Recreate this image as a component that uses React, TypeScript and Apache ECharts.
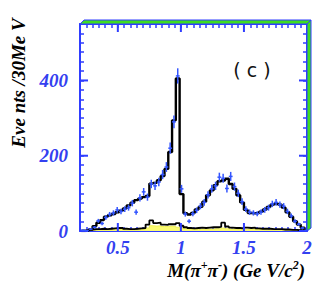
import React, { useEffect, useRef } from 'react';
import * as echarts from 'echarts';

// Histogram bins: low edge of first bin and bin width (GeV/c^2)
const binLow = 0.21;
const binWidth = 0.03;
const xMin = 0.2;
const xMax = 2.0;
const yMax = 550;

// Total fit (black step histogram), one value per bin
const fitValues = [
  0, 1, 4, 13, 22, 29, 38, 42, 45, 50,
  54, 60, 68, 75, 82, 86, 90, 93, 126, 128,
  135, 146, 165, 210, 294, 405, 98, 47, 44, 48,
  57, 64, 78, 95, 108, 122, 132, 134, 139, 125,
  112, 95, 76, 56, 48, 47, 48, 51, 57, 64,
  70, 73, 70, 62, 50, 38, 26, 17, 9, 3,
];

// Data points (blue crosses)
const dataValues = [
  2, 1, 5, 10, 27, 20, 36, 44, 48, 56,
  52, 58, 62, 74, 50, 88, 104, 90, 125, 120,
  130, 150, 170, 220, 290, 412, 112, 45, 26, 46,
  55, 66, 76, 96, 112, 120, 143, 140, 113, 145,
  118, 100, 78, 58, 50, 48, 46, 50, 56, 62,
  72, 76, 70, 66, 52, 40, 26, 18, 8, 2,
];

// Background (lower black histogram)
const bkgValues = [
  1, 2, 4, 5, 5, 6, 5, 6, 7, 8,
  8, 6, 5, 5, 6, 7, 8, 17, 28, 21,
  22, 17, 16, 18, 18, 21, 14, 10, 8, 7,
  8, 9, 8, 9, 10, 10, 11, 22, 12, 9,
  8, 8, 7, 9, 8, 9, 7, 6, 6, 6,
  5, 5, 5, 4, 4, 3, 3, 2, 2, 1,
];

// Yellow component
const yellowValues = [
  0, 1, 2, 2, 3, 3, 3, 3, 4, 4,
  4, 3, 3, 3, 3, 4, 4, 8, 14, 13,
  14, 12, 12, 13, 12, 10, 8, 6, 5, 4,
  4, 5, 5, 5, 5, 6, 6, 8, 6, 5,
  5, 4, 4, 5, 5, 5, 4, 4, 3, 3,
  3, 3, 3, 2, 2, 2, 2, 1, 1, 0,
];

const xMajorTicks = [0.5, 1, 1.5, 2];
const yMajorTicks = [0, 200, 400];

const BLUE = '#2f3dff';
const LABEL_BLUE = '#3340f0';
const GREEN = '#3fdc22';

function stepData(vals: number[]) {
  const pts: number[][] = vals.map((v, i) => [+(binLow + i * binWidth).toFixed(4), v]);
  pts.push([xMax, vals[vals.length - 1]]);
  return pts;
}

export default function App() {
  const ref = useRef<HTMLDivElement>(null);
  useEffect(() => {
    document.body.style.margin = '0';
    const chart = echarts.init(ref.current!, null, { renderer: 'svg' });
    const serif = 'Liberation Serif, Times New Roman, serif';
    const xAxisBase = {
      type: 'value',
      min: xMin,
      max: xMax,
      interval: 0.05,
      splitLine: { show: false },
      axisLine: { show: true, onZero: false, lineStyle: { color: BLUE, width: 2 } },
      axisTick: { show: true, inside: true, length: 4, lineStyle: { color: BLUE, width: 1.5 } },
    };
    const yAxisBase = {
      type: 'value',
      min: 0,
      max: yMax,
      interval: 25,
      splitLine: { show: false },
      axisLine: { show: true, onZero: false, lineStyle: { color: BLUE, width: 2 } },
      axisTick: { show: true, inside: true, length: 4, lineStyle: { color: BLUE, width: 1.5 } },
    };
    const majorTickSeries = (isX: boolean) => ({
      type: 'custom',
      silent: true,
      z: 5,
      clip: false,
      data: (isX ? xMajorTicks : yMajorTicks).map((v) => (isX ? [v, 0] : [xMin, v])),
      renderItem: (params: any, api: any) => {
        const style = { stroke: BLUE, lineWidth: 2 };
        if (isX) {
          const x = api.value(0);
          const b = api.coord([x, 0]);
          const t = api.coord([x, yMax]);
          return {
            type: 'group',
            children: [
              { type: 'line', shape: { x1: b[0], y1: b[1], x2: b[0], y2: b[1] - 8 }, style },
              { type: 'line', shape: { x1: t[0], y1: t[1], x2: t[0], y2: t[1] + 8 }, style },
            ],
          };
        }
        const y = api.value(1);
        const l = api.coord([xMin, y]);
        const r = api.coord([xMax, y]);
        return {
          type: 'group',
          children: [
            { type: 'line', shape: { x1: l[0], y1: l[1], x2: l[0] + 8, y2: l[1] }, style },
            { type: 'line', shape: { x1: r[0], y1: r[1], x2: r[0] - 8, y2: r[1] }, style },
          ],
        };
      },
    });

    const titleMain = { fontFamily: serif, fontStyle: 'italic', fontWeight: 'bold', fontSize: 19, fill: '#000000', color: '#000000', lineHeight: 22 };
    const titleSup = { fontFamily: serif, fontStyle: 'italic', fontWeight: 'bold', fontSize: 12, fill: '#000000', color: '#000000', lineHeight: 22, verticalAlign: 'top' };

    chart.setOption({
      animation: false,
      backgroundColor: '#ffffff',
      grid: { left: 80, top: 24, right: 20, bottom: 59, containLabel: false },
      xAxis: [
        {
          ...xAxisBase,
          position: 'bottom',
          axisLabel: {
            show: true,
            margin: 7,
            showMaxLabel: true,
            color: LABEL_BLUE,
            fontFamily: serif,
            fontStyle: 'italic',
            fontWeight: 'bold',
            fontSize: 19,
            formatter: (v: number) => {
              const hit = xMajorTicks.find((t) => Math.abs(t - v) < 1e-6);
              return hit !== undefined ? String(hit) : '';
            },
          },
        },
        { ...xAxisBase, position: 'top', axisLabel: { show: false } },
      ],
      yAxis: [
        {
          ...yAxisBase,
          position: 'left',
          axisLabel: {
            show: true,
            margin: 12,
            color: LABEL_BLUE,
            fontFamily: serif,
            fontStyle: 'italic',
            fontWeight: 'bold',
            fontSize: 19,
            formatter: (v: number) => (yMajorTicks.includes(v) ? String(v) : ''),
          },
        },
        { ...yAxisBase, position: 'right', axisLabel: { show: false } },
      ],
      series: [
        {
          type: 'line',
          step: 'end',
          data: stepData(yellowValues),
          showSymbol: false,
          lineStyle: { color: '#eeee55', width: 1 },
          areaStyle: { color: '#fafa70', opacity: 1 },
          z: 2,
        },
        {
          type: 'line',
          step: 'end',
          data: stepData(bkgValues),
          showSymbol: false,
          lineStyle: { color: '#000000', width: 1.8 },
          z: 3,
        },
        {
          type: 'line',
          step: 'end',
          data: stepData(fitValues),
          showSymbol: false,
          lineStyle: { color: '#000000', width: 2.4 },
          z: 4,
        },
        {
          type: 'custom',
          z: 6,
          data: dataValues.map((v, i) => [+(binLow + (i + 0.5) * binWidth).toFixed(4), v]),
          renderItem: (params: any, api: any) => {
            const x = api.value(0);
            const v = api.value(1);
            const e = Math.sqrt(Math.max(v, 1));
            const c = api.coord([x, v]);
            const t = api.coord([x, v + e]);
            const b = api.coord([x, Math.max(v - e, 0)]);
            const style = { stroke: '#3355ff', lineWidth: 1.5 };
            return {
              type: 'group',
              children: [
                { type: 'line', shape: { x1: t[0], y1: t[1], x2: b[0], y2: b[1] }, style },
                { type: 'line', shape: { x1: c[0] - 1.9, y1: c[1], x2: c[0] + 1.9, y2: c[1] }, style },
              ],
            };
          },
        },
        majorTickSeries(true),
        majorTickSeries(false),
      ],
      graphic: [
        {
          type: 'polygon',
          shape: { points: [[80, 24], [84, 20], [311, 20], [307, 24]] },
          style: { fill: GREEN, stroke: BLUE, lineWidth: 1 },
          z: 10,
        },
        {
          type: 'polygon',
          shape: { points: [[307, 24], [311, 20], [311, 228], [307, 231]] },
          style: { fill: GREEN, stroke: BLUE, lineWidth: 1 },
          z: 10,
        },
        {
          type: 'text',
          x: 252,
          y: 70,
          style: {
            text: '( c )',
            fontFamily: 'DejaVu Sans, sans-serif',
            fontSize: 19,
            fill: '#111111',
            align: 'center',
            verticalAlign: 'middle',
          },
        },
        {
          type: 'text',
          x: 18,
          y: 83,
          rotation: Math.PI / 2,
          style: {
            text: 'Eve nts /30Me V',
            fontFamily: serif,
            fontStyle: 'italic',
            fontWeight: 'bold',
            fontSize: 19,
            fill: '#000000',
            align: 'center',
            verticalAlign: 'middle',
          },
        },
        {
          type: 'text',
          x: 305,
          y: 270,
          style: {
            text: '{m|M(π}{s|+}{m|π}{s|-}{m|) (Ge V/c}{s|2}{m|)}',
            align: 'right',
            verticalAlign: 'middle',
            rich: { m: titleMain, s: titleSup },
          },
        },
      ],
    });
    return () => chart.dispose();
  }, []);
  return <div ref={ref} style={{ width: 327, height: 290 }} />;
}
